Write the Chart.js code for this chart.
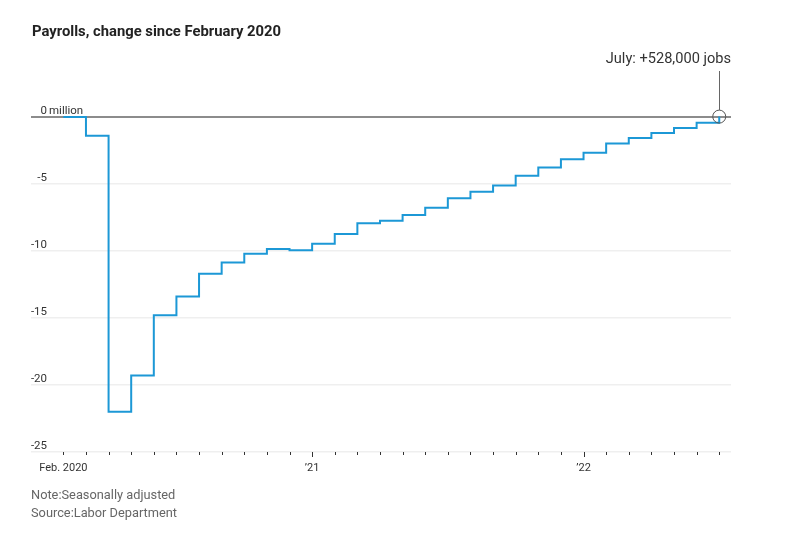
<!DOCTYPE html>
<html>
<head>
<meta charset="utf-8">
<script src="https://cdn.jsdelivr.net/npm/chart.js@4"></script>
<style>
html,body{margin:0;padding:0;background:#fff;}
#wrap{width:797px;height:546px;position:relative;}
</style>
</head>
<body>
<div id="wrap"><canvas id="c" width="797" height="546"></canvas></div>
<script>
// ---- data ----
const months = ["Feb 2020","Mar 2020","Apr 2020","May 2020","Jun 2020","Jul 2020","Aug 2020","Sep 2020","Oct 2020","Nov 2020","Dec 2020",
  "Jan 2021","Feb 2021","Mar 2021","Apr 2021","May 2021","Jun 2021","Jul 2021","Aug 2021","Sep 2021","Oct 2021","Nov 2021","Dec 2021",
  "Jan 2022","Feb 2022","Mar 2022","Apr 2022","May 2022","Jun 2022","Jul 2022"];
const payrollChange = [0, -1.4, -22.0, -19.3, -14.8, -13.4, -11.7, -10.85, -10.2, -9.85, -9.95,
  -9.45, -8.73, -7.93, -7.74, -7.31, -6.77, -6.07, -5.57, -5.12, -4.38, -3.76, -3.16,
  -2.66, -1.97, -1.57, -1.19, -0.82, -0.42, 0.03];
const yTicks = [0, -5, -10, -15, -20, -25];
const xTickLabels = [{i: 0, text: "Feb. 2020"}, {i: 11, text: "\u201921"}, {i: 23, text: "\u201922"}];
const majorTickIdx = [11, 23];
const annotationText = "July: +528,000 jobs";
const titleText = "Payrolls, change since February 2020";
const noteText = "Note:Seasonally adjusted";
const sourceText = "Source:Labor Department";

const FONT = 'Roboto, "DejaVu Sans", sans-serif';

const points = payrollChange.map((v, i) => ({x: i, y: v}));

const overlay = {
  id: 'overlay',
  afterDraw(chart) {
    const ctx = chart.ctx;
    const xs = chart.scales.x, ys = chart.scales.y;
    const area = chart.chartArea;
    ctx.save();
    // y labels
    ctx.fillStyle = '#333';
    ctx.font = '11.5px ' + FONT;
    ctx.textBaseline = 'alphabetic';
    yTicks.forEach(v => {
      const py = ys.getPixelForValue(v);
      ctx.textAlign = 'right';
      ctx.fillText(String(v), 47, py - 3);
      if (v === 0) {
        ctx.textAlign = 'left';
        ctx.fillText('million', 49, py - 3);
      }
    });
    // x ticks
    ctx.strokeStyle = '#333';
    ctx.lineWidth = 1;
    const by = Math.round(area.bottom);
    months.forEach((m, i) => {
      const px = Math.round(xs.getPixelForValue(i)) + 0.5;
      const len = majorTickIdx.includes(i) ? 5 : 3;
      ctx.beginPath();
      ctx.moveTo(px, by);
      ctx.lineTo(px, by + len);
      ctx.stroke();
    });
    // x labels
    ctx.textAlign = 'center';
    ctx.fillStyle = '#333';
    ctx.font = '11px ' + FONT;
    xTickLabels.forEach(t => {
      ctx.fillText(t.text, xs.getPixelForValue(t.i), by + 19);
    });
    // annotation
    const last = payrollChange.length - 1;
    const ax = xs.getPixelForValue(last);
    const ay = ys.getPixelForValue(payrollChange[last]);
    ctx.strokeStyle = '#555';
    ctx.lineWidth = 1;
    ctx.beginPath();
    ctx.arc(ax, ay, 6.5, 0, Math.PI * 2);
    ctx.stroke();
    ctx.strokeStyle = '#666';
    ctx.beginPath();
    ctx.moveTo(Math.round(ax) + 0.5, 71);
    ctx.lineTo(Math.round(ax) + 0.5, ay - 6.5);
    ctx.stroke();
    ctx.fillStyle = '#333';
    ctx.font = '14.6px ' + FONT;
    ctx.textAlign = 'right';
    ctx.fillText(annotationText, 731, 63);
    // title
    ctx.textAlign = 'left';
    ctx.fillStyle = '#222';
    ctx.font = 'bold 14.8px ' + FONT;
    ctx.fillText(titleText, 32, 36);
    // footer
    ctx.fillStyle = '#666';
    ctx.font = '12.8px ' + FONT;
    ctx.fillText(noteText, 31, 499);
    ctx.fillText(sourceText, 31, 517);
    ctx.restore();
  }
};

new Chart(document.getElementById('c'), {
  type: 'line',
  data: {
    datasets: [{
      data: points,
      borderColor: '#1c98d6',
      borderWidth: 2,
      pointRadius: 0,
      stepped: true,
      fill: false,
      clip: false
    }]
  },
  options: {
    responsive: false,
    animation: false,
    events: [],
    layout: {padding: {left: 31, right: 66, top: 117, bottom: 94}},
    plugins: {legend: {display: false}, tooltip: {enabled: false}, title: {display: false}},
    scales: {
      x: {
        type: 'linear',
        min: -1.43,
        max: 29.52,
        display: true,
        ticks: {display: false},
        grid: {display: false, drawTicks: false},
        border: {display: false}
      },
      y: {
        type: 'linear',
        min: -25,
        max: 0,
        display: true,
        afterBuildTicks(scale) { scale.ticks = yTicks.map(v => ({value: v})); },
        ticks: {display: false},
        grid: {
          drawTicks: false,
          color: ctx => ctx.tick && ctx.tick.value === 0 ? '#8c8c8c' : '#efefef',
          lineWidth: ctx => ctx.tick && ctx.tick.value === 0 ? 2 : 1.5
        },
        border: {display: false}
      }
    }
  },
  plugins: [overlay]
});
</script>
</body>
</html>
